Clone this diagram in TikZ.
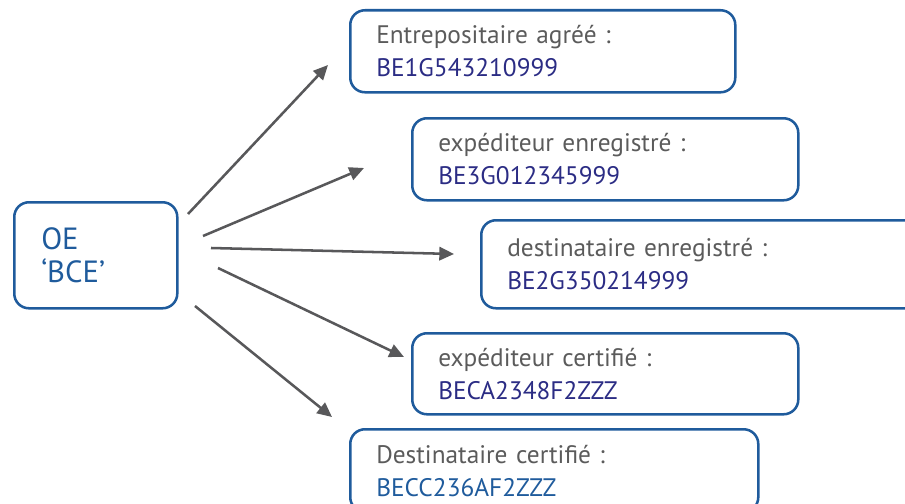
\documentclass[tikz,border=0pt]{standalone}
\usepackage{fontspec}
\setmainfont{PT Sans}
\usetikzlibrary{arrows.meta}
\definecolor{boxblue}{HTML}{1F5B9C}
\definecolor{labelgray}{HTML}{5B5B5B}
\definecolor{codeindigo}{HTML}{2B2C84}
\definecolor{flowgray}{HTML}{58585A}
\tikzset{every picture/.style={line width=0.75pt},
  idbox/.style={draw=boxblue, line width=1.9pt, rounded corners=11pt, anchor=north west,
    inner xsep=19.5pt, inner ysep=0pt, align=left, text=labelgray,
    font=\fontsize{19}{24.75}\selectfont},
  flow/.style={draw=flowgray, line width=1.9pt, -{Triangle[length=11pt,width=10pt]}}}

\begin{document}
\begin{tikzpicture}[x=0.75pt,y=0.75pt,yscale=-1,xscale=1]
\clip (0,0) rectangle (905,503);

%Rounded Rect OE
\node [idbox, inner xsep=20.25pt, text width=81.75pt, minimum height=79.5pt, text=boxblue,
  font=\fontsize{23}{24.75}\selectfont] (oe) at (13,201) {OE\\`BCE'};

%Rounded Rects
\node [idbox, text width=249.75pt, minimum height=61.5pt] (entrepositaire) at (349,9)
  {Entrepositaire agréé :\\\textcolor{codeindigo}{BE1G543210999}};
\node [idbox, text width=250.5pt, minimum height=61.5pt] (expenr) at (411,117)
  {expéditeur enregistré :\\\textcolor{codeindigo}{BE3G012345999}};
\node [idbox, text width=306pt, minimum height=66pt] (destenr) at (480,219)
  {destinataire enregistré :\\\textcolor{codeindigo}{BE2G350214999}};
\node [idbox, text width=250.5pt, minimum height=60.75pt] (expcert) at (411,332)
  {expéditeur certifié :\\\textcolor{codeindigo}{BECA2348F2ZZZ}};
\node [idbox, text width=267pt, minimum height=62pt] (destcert) at (349,428)
  {Destinataire certifié :\\\textcolor{boxblue}{BECC236AF2ZZZ}};

%Arrow ends
\coordinate (s1) at (188,214); \coordinate (t1) at (328,65);
\coordinate (s2) at (203,236); \coordinate (t2) at (364,168);
\coordinate (s3) at (211,248); \coordinate (t3) at (454,254);
\coordinate (s4) at (218,268); \coordinate (t4) at (404,357);
\coordinate (s5) at (195,306); \coordinate (t5) at (332,417);

%Straight Lines
\draw [flow] (s1) -- (t1);
\draw [flow] (s2) -- (t2);
\draw [flow] (s3) -- (t3);
\draw [flow] (s4) -- (t4);
\draw [flow] (s5) -- (t5);

\end{tikzpicture}
\end{document}
